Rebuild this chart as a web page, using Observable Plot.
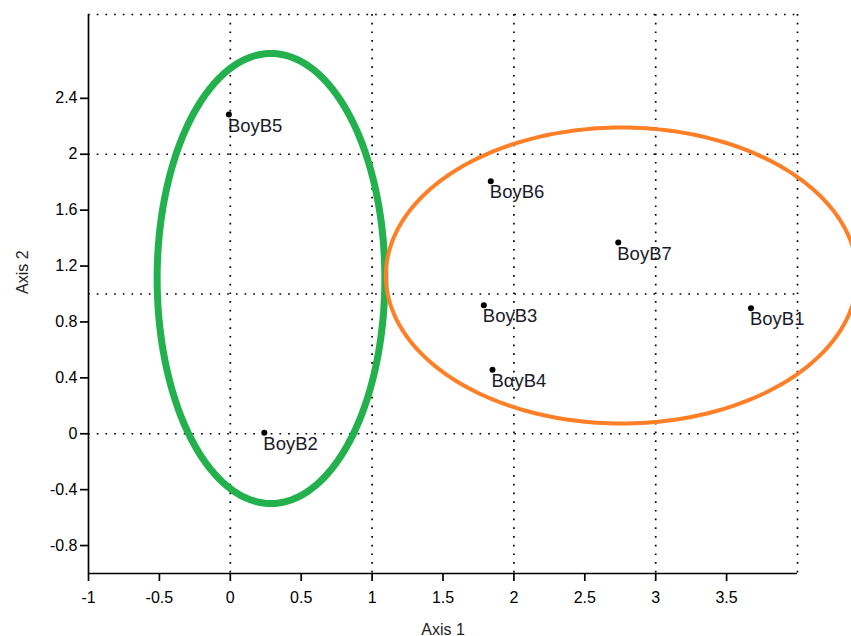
<!DOCTYPE html>
<html>
<head>
<meta charset="utf-8">
<script src="https://cdn.jsdelivr.net/npm/d3@7"></script>
<script src="https://cdn.jsdelivr.net/npm/@observablehq/plot@0.6"></script>
<style>
  html, body { margin: 0; padding: 0; background: #fff; overflow: hidden; }
  #chart svg { display: block; overflow: hidden; }
</style>
</head>
<body>
<div id="chart"></div>
<script>
// Points
const names = ["BoyB1", "BoyB2", "BoyB3", "BαyB4", "BoyB5", "BoyB6", "BoyB7"];
const axis1 = [3.672, 0.24, 1.788, 1.849, -0.01, 1.837, 2.736];
const axis2 = [0.898, 0.007, 0.920, 0.458, 2.284, 1.807, 1.369];

// Cluster ellipses (centre and radii in data units)
const ellipseNames = ["green", "orange"];
const ellipseCx = [0.287, 2.759];
const ellipseCy = [1.111, 1.132];
const ellipseRx = [0.803, 1.662];
const ellipseRy = [1.61, 1.059];
const ellipseColors = ["#22b14c", "#ff7f27"];
const ellipseWidths = [7, 4];

// Axes
const xTicks = [-1, -0.5, 0, 0.5, 1, 1.5, 2, 2.5, 3, 3.5];
const yTicks = [-0.8, -0.4, 0, 0.4, 0.8, 1.2, 1.6, 2, 2.4];
const xGrid = [0, 1, 2, 3, 4];
const yGrid = [0, 1, 2, 3];

const points = names.map((n, i) => ({name: n, x: axis1[i], y: axis2[i]}));

// ellipse outlines sampled from their parameters
const ellipseOutlines = ellipseNames.map((n, k) => {
  const pts = [];
  const N = 240;
  for (let i = 0; i <= N; i++) {
    const t = (i / N) * 2 * Math.PI;
    pts.push({x: ellipseCx[k] + ellipseRx[k] * Math.cos(t), y: ellipseCy[k] + ellipseRy[k] * Math.sin(t)});
  }
  return pts;
});

const dotted = {stroke: "#000", strokeWidth: 1.7, strokeDasharray: "1.7,7"};
const font = "'Liberation Sans', Arial, sans-serif";
const narrow = "'Liberation Sans Narrow', 'Arial Narrow', 'Liberation Sans', sans-serif";

const chart = Plot.plot({
  width: 851,
  height: 636,
  marginLeft: 88,
  marginRight: 54,
  marginTop: 14,
  marginBottom: 63,
  x: {domain: [-1, 4]},
  y: {domain: [-1, 3]},
  style: {fontFamily: font, color: "#000", background: "#fff"},
  marks: [
    Plot.ruleX(xGrid, dotted),
    Plot.ruleY(yGrid, dotted),
    Plot.ruleX([-1], {stroke: "#000", strokeWidth: 1.7}),
    Plot.ruleY([-1], {stroke: "#000", strokeWidth: 1.7}),
    Plot.axisX(xTicks, {
      tickSize: 8, tickPadding: 10, fontSize: 16, fontFamily: narrow,
      tickFormat: d => String(d), strokeWidth: 1.7, label: null
    }),
    Plot.axisY(yTicks, {
      tickSize: 8, tickPadding: 3, fontSize: 16, fontFamily: font,
      tickFormat: d => String(d), strokeWidth: 1.7, label: null
    }),
    Plot.text(["Axis 1"], {frameAnchor: "bottom", dy: 61, fontSize: 16, fontFamily: narrow, fill: "#222"}),
    Plot.text(["Axis 2"], {frameAnchor: "left", dx: -66, rotate: -90, fontSize: 16, fontFamily: font, fill: "#222"}),
    ...ellipseOutlines.map((pts, k) => Plot.line(pts, {
      x: "x", y: "y", stroke: ellipseColors[k], strokeWidth: ellipseWidths[k], curve: "linear"
    })),
    Plot.dot(points, {x: "x", y: "y", r: 3, fill: "#000"}),
    Plot.text(points, {
      x: "x", y: "y", text: "name", textAnchor: "start", lineAnchor: "top",
      dy: 4, dx: -1, fontSize: 18.5, fontFamily: font, fill: "#1a1a2a"
    })
  ]
});

document.getElementById("chart").appendChild(chart);
</script>
</body>
</html>
